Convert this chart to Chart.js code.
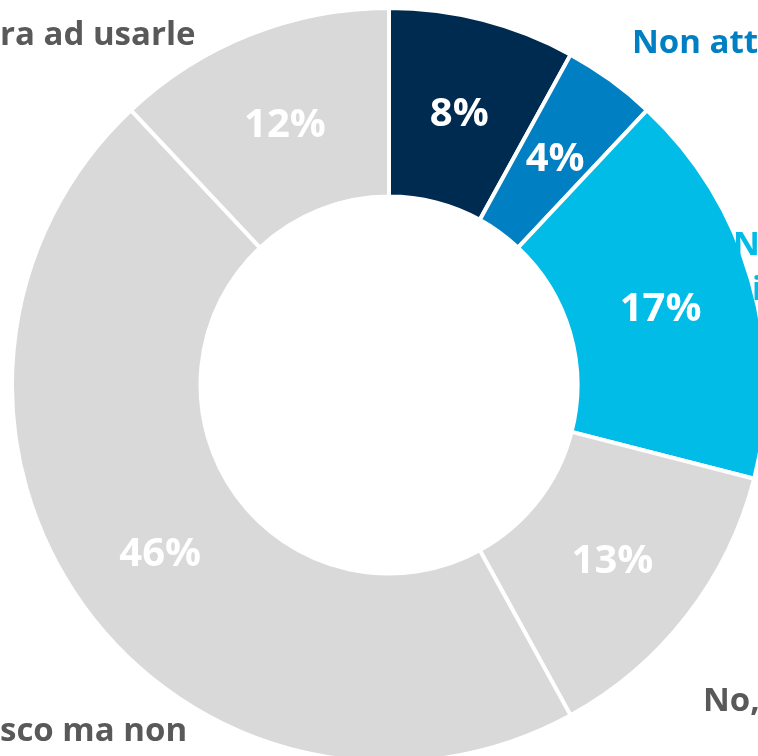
<!DOCTYPE html>
<html>
<head>
<meta charset="utf-8">
<script src="https://cdn.jsdelivr.net/npm/chart.js@4.4.1/dist/chart.umd.min.js"></script>
<style>
  html, body { margin: 0; padding: 0; background: #fff; overflow: hidden; }
  #wrap { width: 758px; height: 756px; overflow: hidden; position: relative; }
  canvas { position: absolute; left: 0; top: 0; }
</style>
</head>
<body>
<div id="wrap"><canvas id="donut" width="778" height="770"></canvas></div>
<script>
  // slice values (percent), clockwise from 12 o'clock
  const values = [8, 4, 17, 13, 46, 12];
  const labels = ['8%', '4%', '17%', '13%', '46%', '12%'];
  const colors = ['#002B50', '#0080C2', '#00BCE6', '#D9D9D9', '#D9D9D9', '#D9D9D9'];

  // category captions, partly outside the visible area
  const captions = [
    { text: 'ra ad usarle', x: 0, y: 45, color: '#595959' },
    { text: 'Non att', x: 632, y: 53, color: '#0080C2' },
    { text: 'N', x: 733, y: 255, color: '#00BCE6' },
    { text: 'i', x: 752, y: 300, color: '#00BCE6' },
    { text: 'No,', x: 703, y: 711, color: '#595959' },
    { text: 'sco ma non', x: 0, y: 741, color: '#595959' }
  ];

  const sliceLabels = {
    id: 'sliceLabels',
    afterDatasetsDraw(chart) {
      const ctx = chart.ctx;
      const meta = chart.getDatasetMeta(0);
      ctx.save();
      ctx.font = 'bold 40px "Open Sans"';
      ctx.textAlign = 'center';
      ctx.textBaseline = 'alphabetic';
      ctx.fillStyle = '#ffffff';
      meta.data.forEach((arc, i) => {
        const p = arc.getProps(['x', 'y', 'startAngle', 'endAngle', 'innerRadius', 'outerRadius'], true);
        const a = (p.startAngle + p.endAngle) / 2;
        const r = (p.innerRadius + p.outerRadius) / 2;
        ctx.fillText(labels[i], p.x + Math.cos(a) * r, p.y + Math.sin(a) * r + 15);
      });
      ctx.font = 'bold 33px "Open Sans"';
      ctx.textAlign = 'left';
      captions.forEach(c => {
        ctx.fillStyle = c.color;
        ctx.fillText(c.text, c.x, c.y);
      });
      ctx.restore();
    }
  };

  new Chart(document.getElementById('donut'), {
    type: 'doughnut',
    data: {
      labels: labels,
      datasets: [{
        data: values,
        backgroundColor: colors,
        borderColor: '#ffffff',
        borderWidth: 4
      }]
    },
    options: {
      responsive: false,
      animation: false,
      cutout: '50%',
      layout: { padding: { left: 10, right: 10, top: 6, bottom: 6 } },
      plugins: {
        legend: { display: false },
        tooltip: { enabled: false }
      }
    },
    plugins: [sliceLabels]
  });
</script>
</body>
</html>
